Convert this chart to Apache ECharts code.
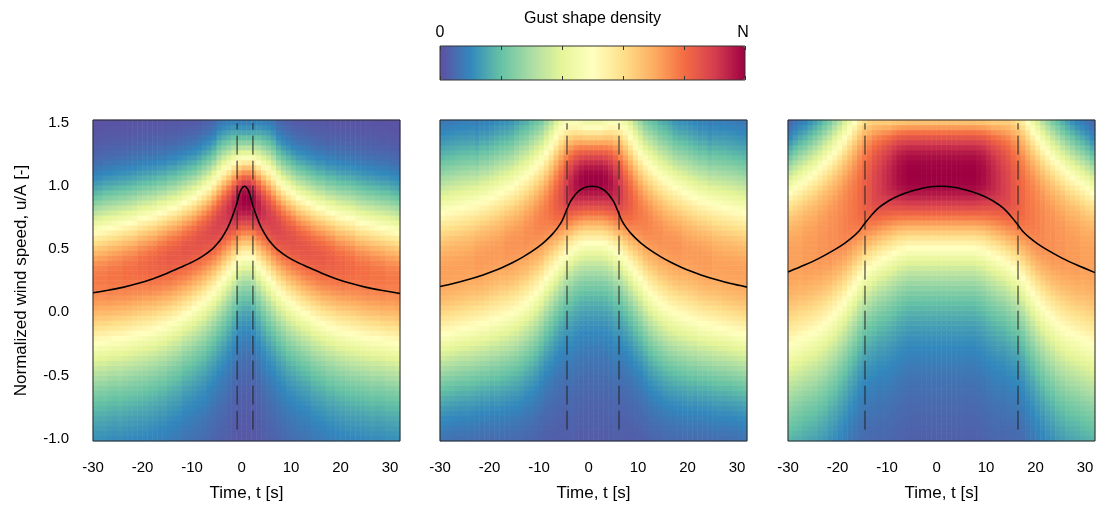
<!DOCTYPE html>
<html><head><meta charset="utf-8">
<script src="https://cdn.jsdelivr.net/npm/echarts/dist/echarts.min.js"></script>
<style>html,body{margin:0;padding:0;background:#fff}#c{width:1100px;height:507px}</style>
</head><body><div id="c"></div>
<script>
// ---------- data ----------
// x tick labels and y tick labels
const xTicks = [-30, -20, -10, 0, 10, 20, 30];
const yTicks = [-1, -0.5, 0, 0.5, 1, 1.5];

// Heatmap: per-column parameters, listed for |t - 1| = 0.5, 1.5, ... 30.5 (panels are mirror-symmetric)
// ridge = u of max density, peak = max density (0..1 of colour scale),
// upHalf / lowHalf = u where density crosses the middle (pale yellow) level above / below the ridge,
// tail = heaviness of the lower tail; upShape = flatness of the upper side (per panel)
const ridge1 = [0.90,0.88,0.84,0.80,0.76,0.71,0.67,0.63,0.60,0.57,0.54,0.51,0.49,0.47,0.45,0.43,0.42,0.40,0.38,0.37,0.36,0.35,0.33,0.32,0.31,0.30,0.29,0.28,0.27,0.27,0.26];
const peak1  = [1.00,0.98,0.95,0.92,0.90,0.89,0.88,0.87,0.86,0.86,0.85,0.85,0.85,0.84,0.84,0.84,0.83,0.83,0.82,0.82,0.81,0.81,0.80,0.80,0.80,0.79,0.79,0.79,0.78,0.78,0.78];
const upHalf1 = [1.22,1.21,1.19,1.16,1.13,1.09,1.04,1.00,0.97,0.94,0.91,0.89,0.87,0.85,0.83,0.82,0.80,0.79,0.77,0.76,0.75,0.74,0.72,0.71,0.70,0.69,0.68,0.67,0.66,0.65,0.64];
const lowHalf1 = [0.44,0.42,0.37,0.32,0.27,0.22,0.17,0.13,0.09,0.06,0.03,0.00,-0.02,-0.05,-0.07,-0.09,-0.11,-0.12,-0.14,-0.15,-0.16,-0.17,-0.18,-0.19,-0.20,-0.21,-0.21,-0.22,-0.23,-0.23,-0.24];
const tail1 = [2,2,2,2,2,2,2,2,2,2,2,2,2,2,2,2,2,2,2,2,2,2,2,2,2,2,2,2,2,2,2];

const ridge2 = [1.05,1.05,1.04,1.02,0.99,0.95,0.91,0.87,0.83,0.78,0.73,0.69,0.65,0.61,0.58,0.55,0.53,0.51,0.49,0.47,0.45,0.43,0.41,0.40,0.38,0.37,0.35,0.34,0.33,0.32,0.31];
const peak2  = [1.00,1.00,0.99,0.97,0.94,0.90,0.86,0.83,0.80,0.78,0.77,0.76,0.75,0.75,0.74,0.74,0.74,0.74,0.73,0.73,0.73,0.73,0.73,0.73,0.72,0.72,0.72,0.72,0.72,0.72,0.72];
const upHalf2 = [1.47,1.47,1.48,1.49,1.49,1.48,1.45,1.39,1.32,1.26,1.20,1.16,1.12,1.08,1.05,1.02,0.99,0.97,0.95,0.93,0.91,0.89,0.88,0.86,0.85,0.84,0.83,0.82,0.81,0.80,0.79];
const lowHalf2 = [0.55,0.55,0.54,0.52,0.49,0.46,0.42,0.37,0.32,0.27,0.21,0.16,0.12,0.08,0.05,0.02,0.00,-0.02,-0.03,-0.05,-0.06,-0.08,-0.09,-0.10,-0.11,-0.12,-0.13,-0.14,-0.15,-0.16,-0.17];
const tail2 = [1.6,1.6,1.6,1.6,1.6,1.8,2,2.3,2.6,3,3.4,3.8,4.2,4.6,5,5.5,6,6.5,7,7.5,8,8,8,8,8,8,8,8,8,8,8];

const ridge3 = [1.06,1.06,1.06,1.06,1.06,1.06,1.06,1.06,1.06,1.05,1.03,1.01,0.98,0.95,0.91,0.87,0.82,0.77,0.72,0.67,0.62,0.58,0.54,0.51,0.48,0.45,0.43,0.41,0.39,0.37,0.36];
const peak3  = [1.00,1.00,1.00,1.00,1.00,1.00,1.00,0.99,0.98,0.96,0.94,0.92,0.90,0.88,0.85,0.83,0.81,0.79,0.78,0.77,0.76,0.75,0.75,0.74,0.74,0.73,0.73,0.73,0.72,0.72,0.72];
const upHalf3 = [1.59,1.59,1.59,1.59,1.59,1.59,1.59,1.59,1.59,1.59,1.59,1.60,1.61,1.62,1.62,1.61,1.57,1.51,1.44,1.38,1.32,1.27,1.22,1.18,1.14,1.10,1.07,1.04,1.01,0.98,0.95];
const lowHalf3 = [0.51,0.51,0.51,0.51,0.51,0.51,0.51,0.50,0.49,0.47,0.45,0.43,0.41,0.38,0.35,0.32,0.27,0.21,0.15,0.09,0.04,-0.01,-0.05,-0.09,-0.12,-0.15,-0.17,-0.19,-0.21,-0.23,-0.25];
const tail3 = [1.6,1.6,1.6,1.6,1.6,1.6,1.6,1.6,1.6,1.6,1.6,1.6,1.7,1.7,1.8,1.8,1.9,1.9,2,2,2,2,2,2,2,2,2,2,2,2,2];
const upShape = [2, 2, 3];

// Mean gust shape (black curve)
const curveT1 = [-30,-27,-24,-21,-18,-15,-12,-10,-8,-6,-5,-4,-3,-2.4,-2,-1.4,-0.9,-0.5,0,0.6,1.2,1.7,2.1,2.6,3.2,3.6,4.2,5.2,6.2,7.2,9.2,11.2,13.2,16.2,19.2,22.2,25.2,28.2,31.2,32];
const curveU1 = [0.155,0.175,0.198,0.228,0.265,0.31,0.362,0.398,0.442,0.5,0.54,0.59,0.655,0.705,0.745,0.81,0.87,0.93,0.98,1.0,0.98,0.93,0.87,0.81,0.745,0.705,0.655,0.59,0.54,0.5,0.442,0.398,0.362,0.31,0.265,0.228,0.198,0.175,0.155,0.15];
const curveT2 = [-30,-27.3,-24.3,-21.3,-19.3,-17.3,-15.3,-13.3,-11.3,-9.3,-8.3,-7.3,-6.3,-5.3,-4.55,-3.9,-3.3,-2.3,-1.3,-0.3,0.7,1.7,2.7,3.7,4.7,5.3,5.95,6.7,7.7,8.7,9.7,10.7,12.7,14.7,16.7,18.7,20.7,22.7,25.7,28.7,32];
const curveU2 = [0.205,0.228,0.26,0.297,0.325,0.358,0.395,0.438,0.487,0.545,0.58,0.62,0.668,0.73,0.8,0.86,0.9,0.95,0.98,0.995,1.0,0.995,0.98,0.95,0.9,0.86,0.8,0.73,0.668,0.62,0.58,0.545,0.487,0.438,0.395,0.358,0.325,0.297,0.26,0.228,0.2];
const curveT3 = [-30,-26.65,-23.65,-20.65,-18.65,-17.15,-15.65,-14.6,-13.15,-11.65,-9.65,-7.65,-5.15,-2.15,0.85,3.85,6.85,9.35,11.35,13.35,14.85,16.3,17.35,18.85,20.35,22.35,25.35,28.35,32];
const curveU3 = [0.32,0.375,0.43,0.495,0.545,0.59,0.645,0.7,0.77,0.83,0.885,0.925,0.96,0.99,1.0,0.99,0.96,0.925,0.885,0.83,0.77,0.7,0.645,0.59,0.545,0.495,0.43,0.375,0.315];

// Gust duration markers (dashed lines)
const dash1 = [-0.9, 2.3];
const dash2 = [-4.35, 6.15];
const dash3 = [-14.45, 16.45];
const dashU = [-0.93, 1.5];

// ---------- layout / style ----------
const FONT = "'Liberation Sans', Arial, Helvetica, sans-serif";
const SPECTRAL = ['#5e4fa2','#3288bd','#66c2a5','#abdda4','#e6f598','#ffffbf','#fee08b','#fdae61','#f46d43','#d53e4f','#9e0142'];
const X_MIN = -30, X_MAX = 32, Y_MIN = -1.02, Y_MAX = 1.525;
const N_COLS = 62, N_ROWS = 64;
const GRID_TOP = 120, GRID_H = 321, GRID_W = 307;
const LEFTS = [93, 440, 788];

const mirror = h => h.slice().reverse().concat(h);
const colT = [], rowU = [];
for (let i = 0; i < N_COLS; i++) colT.push(String(X_MIN + 0.5 + i));
for (let r = 0; r < N_ROWS; r++) rowU.push(Y_MIN + (r + 0.5) * (Y_MAX - Y_MIN) / N_ROWS);

function density(u, c, p, up, low, k, q) {
  const d = u - c;
  if (d >= 0) {
    const su = (up - c) / Math.pow(2 * Math.log(2 * p), 1 / q);
    return p * Math.exp(-0.5 * Math.pow(d / su, q));
  }
  const x = 2 * k * (Math.pow(0.5 / p, -1 / k) - 1);
  const sd = (c - low) / Math.sqrt(x);
  return p * Math.pow(1 + (d / sd) * (d / sd) / (2 * k), -k);
}
function heatData(ridge, peak, up, low, tail, q) {
  const R = mirror(ridge), P = mirror(peak), U = mirror(up), L = mirror(low), K = mirror(tail);
  const out = [];
  for (let i = 0; i < N_COLS; i++)
    for (let r = 0; r < N_ROWS; r++)
      out.push([i, r, density(rowU[r], R[i], P[i], U[i], L[i], K[i], q)]);
  return out;
}
const panels = [
  {heat: heatData(ridge1, peak1, upHalf1, lowHalf1, tail1, upShape[0]), ct: curveT1, cu: curveU1, dash: dash1},
  {heat: heatData(ridge2, peak2, upHalf2, lowHalf2, tail2, upShape[1]), ct: curveT2, cu: curveU2, dash: dash2},
  {heat: heatData(ridge3, peak3, upHalf3, lowHalf3, tail3, upShape[2]), ct: curveT3, cu: curveU3, dash: dash3}
];

const grid = [], xAxis = [], yAxis = [], series = [];
panels.forEach((pn, i) => {
  grid.push({left: LEFTS[i], top: GRID_TOP, width: GRID_W, height: GRID_H, show: false});
});
panels.forEach((pn, i) => {
  grid.push({left: LEFTS[i], top: GRID_TOP, width: GRID_W, height: GRID_H, show: true,
    backgroundColor: 'rgba(0,0,0,0)', borderColor: '#262626', borderWidth: 1, z: 5});
});
grid.push({left: 440, top: 46, width: 305, height: 34, show: true, backgroundColor: 'rgba(0,0,0,0)',
  borderColor: '#333', borderWidth: 1, z: 10});

panels.forEach((pn, i) => {
  xAxis.push({type: 'category', gridIndex: i, data: colT, show: false});
  yAxis.push({type: 'category', gridIndex: i, data: rowU.map(String), show: false});
});
panels.forEach((pn, i) => {
  xAxis.push({type: 'value', gridIndex: 3 + i, min: X_MIN, max: X_MAX,
    axisLine: {show: false}, axisTick: {show: false}, splitLine: {show: false},
    axisLabel: {customValues: xTicks, color: '#000', fontSize: 15, fontFamily: FONT, margin: 19},
    name: 'Time, t [s]', nameLocation: 'middle', nameGap: 44,
    nameTextStyle: {color: '#000', fontSize: 17, fontFamily: FONT}});
  yAxis.push({type: 'value', gridIndex: 3 + i, min: Y_MIN, max: Y_MAX,
    axisLine: {show: false}, axisTick: {show: false}, splitLine: {show: false},
    axisLabel: {show: i === 0, customValues: yTicks, formatter: v => v.toFixed(1),
      color: '#000', fontSize: 15, fontFamily: FONT, margin: 24},
    name: i === 0 ? 'Normalized wind speed, u/A [-]' : '', nameLocation: 'middle', nameGap: 63,
    nameTextStyle: {color: '#000', fontSize: 17, fontFamily: FONT}});
});
// colour bar tick axes
xAxis.push({type: 'value', gridIndex: 6, min: 0, max: 1, interval: 0.2, position: 'bottom',
  axisLine: {show: false}, axisLabel: {show: false}, splitLine: {show: false},
  axisTick: {show: true, inside: true, length: 4, lineStyle: {color: '#333'}}, z: 11});
xAxis.push({type: 'value', gridIndex: 6, min: 0, max: 1, interval: 0.2, position: 'top',
  axisLine: {show: false}, axisLabel: {show: false}, splitLine: {show: false},
  axisTick: {show: true, inside: true, length: 4, lineStyle: {color: '#333'}}, z: 11});
yAxis.push({type: 'value', gridIndex: 6, min: 0, max: 1, show: false});

panels.forEach((pn, i) => {
  series.push({type: 'heatmap', xAxisIndex: i, yAxisIndex: i, data: pn.heat,
    progressive: 0, silent: true, emphasis: {disabled: true}, itemStyle: {borderWidth: 0}, z: 1});
});
panels.forEach((pn, i) => {
  series.push({type: 'line', xAxisIndex: 3 + i, yAxisIndex: 3 + i, silent: true,
    data: pn.ct.map((t, j) => [t, pn.cu[j]]), symbol: 'none', smooth: 0.25,
    lineStyle: {color: '#000', width: 1.6}, z: 4});
  pn.dash.forEach(t => {
    series.push({type: 'line', xAxisIndex: 3 + i, yAxisIndex: 3 + i, silent: true,
      data: dashU.map(u => [t, u]), symbol: 'none',
      lineStyle: {color: '#222', width: 1, type: [19, 6]}, z: 3});
  });
});

const chart = echarts.init(document.getElementById('c'), null, {renderer: 'canvas'});
chart.setOption({
  animation: false,
  backgroundColor: '#fff',
  textStyle: {fontFamily: FONT},
  grid, xAxis, yAxis, series,
  visualMap: {type: 'continuous', min: 0, max: 1, seriesIndex: [0, 1, 2], dimension: 2,
    orient: 'horizontal', left: 440, top: 46, itemWidth: 34, itemHeight: 305, padding: 0,
    calculable: false, hoverLink: false, inRange: {color: SPECTRAL}},
  graphic: [
    {type: 'text', x: 592.5, y: 19, style: {text: 'Gust shape density', font: '16px ' + FONT, fill: '#000', textAlign: 'center', textVerticalAlign: 'middle'}},
    {type: 'text', x: 440, y: 33, style: {text: '0', font: '16px ' + FONT, fill: '#000', textAlign: 'center', textVerticalAlign: 'middle'}},
    {type: 'text', x: 743, y: 33, style: {text: 'N', font: '16px ' + FONT, fill: '#000', textAlign: 'center', textVerticalAlign: 'middle'}}
  ]
});
</script></body></html>
